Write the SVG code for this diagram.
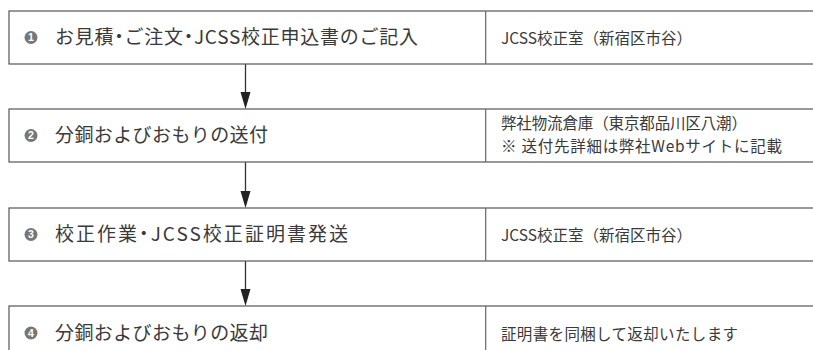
<svg xmlns="http://www.w3.org/2000/svg" width="813" height="350" viewBox="0 0 813 350">
<defs>
<style>
.box{fill:#fff;stroke:#555;stroke-width:1.2}
.div{stroke:#666;stroke-width:1.2}
.num{fill:#777}
.numt{fill:#fff;font-family:"Liberation Sans",Arial,sans-serif;font-size:10.5px;font-weight:bold;text-anchor:middle}
.lt{fill:#3a3a3a;font-family:"Noto Sans CJK JP","Noto Sans",sans-serif;font-size:19px}
.rt{fill:#3a3a3a;font-family:"Noto Sans CJK JP","Noto Sans",sans-serif;font-size:15.5px}
.p{font-feature-settings:"palt"}
.conn{stroke:#333;stroke-width:1.3;fill:none}
.ah{fill:#222}
</style>
</defs>
<g id="connectors">
<line class="conn" x1="245.5" y1="64" x2="245.5" y2="92"/><path class="ah" d="M240.5,92 L250.5,92 L245.5,109 Z"/>
<line class="conn" x1="245.5" y1="162" x2="245.5" y2="191"/><path class="ah" d="M240.5,191 L250.5,191 L245.5,208 Z"/>
<line class="conn" x1="245.5" y1="261" x2="245.5" y2="289"/><path class="ah" d="M240.5,289 L250.5,289 L245.5,306 Z"/>
</g>
<g id="step1">
<rect class="box" x="9" y="11" width="820" height="53"/>
<line class="div" x1="485.7" y1="11" x2="485.7" y2="64"/>
<circle class="num" cx="31" cy="37.5" r="6.5"/>
<text class="numt" x="31" y="41.2">1</text>
<text class="lt" x="55" y="44" textLength="363" lengthAdjust="spacing">お見積<tspan class="p">・</tspan>ご注文<tspan class="p">・</tspan>JCSS校正申込書のご記入</text>
<text class="rt" x="501" y="44" textLength="191" lengthAdjust="spacing">JCSS校正室（新宿区市谷）</text>
</g>
<g id="step2">
<rect class="box" x="9" y="109" width="820" height="53"/>
<line class="div" x1="485.7" y1="109" x2="485.7" y2="162"/>
<circle class="num" cx="31" cy="135.5" r="6.5"/>
<text class="numt" x="31" y="139.2">2</text>
<text class="lt" x="55" y="142" textLength="213" lengthAdjust="spacing">分銅およびおもりの送付</text>
<text class="rt" x="501" y="129" textLength="246" lengthAdjust="spacing">弊社物流倉庫（東京都品川区八潮）</text>
<text class="rt" x="501" y="151.5" textLength="281" lengthAdjust="spacing">※ 送付先詳細は弊社Webサイトに記載</text>
</g>
<g id="step3">
<rect class="box" x="9" y="208" width="820" height="53"/>
<line class="div" x1="485.7" y1="208" x2="485.7" y2="261"/>
<circle class="num" cx="31" cy="234.5" r="6.5"/>
<text class="numt" x="31" y="238.2">3</text>
<text class="lt" x="55" y="241" textLength="293" lengthAdjust="spacing">校正作業<tspan class="p">・</tspan>JCSS校正証明書発送</text>
<text class="rt" x="501" y="241" textLength="191" lengthAdjust="spacing">JCSS校正室（新宿区市谷）</text>
</g>
<g id="step4">
<rect class="box" x="9" y="306" width="820" height="60"/>
<line class="div" x1="485.7" y1="306" x2="485.7" y2="360"/>
<circle class="num" cx="31" cy="333" r="6.5"/>
<text class="numt" x="31" y="336.7">4</text>
<text class="lt" x="55" y="339.5" textLength="213" lengthAdjust="spacing">分銅およびおもりの返却</text>
<text class="rt" x="501" y="339.5" textLength="237" lengthAdjust="spacing">証明書を同梱して返却いたします</text>
</g>
</svg>
